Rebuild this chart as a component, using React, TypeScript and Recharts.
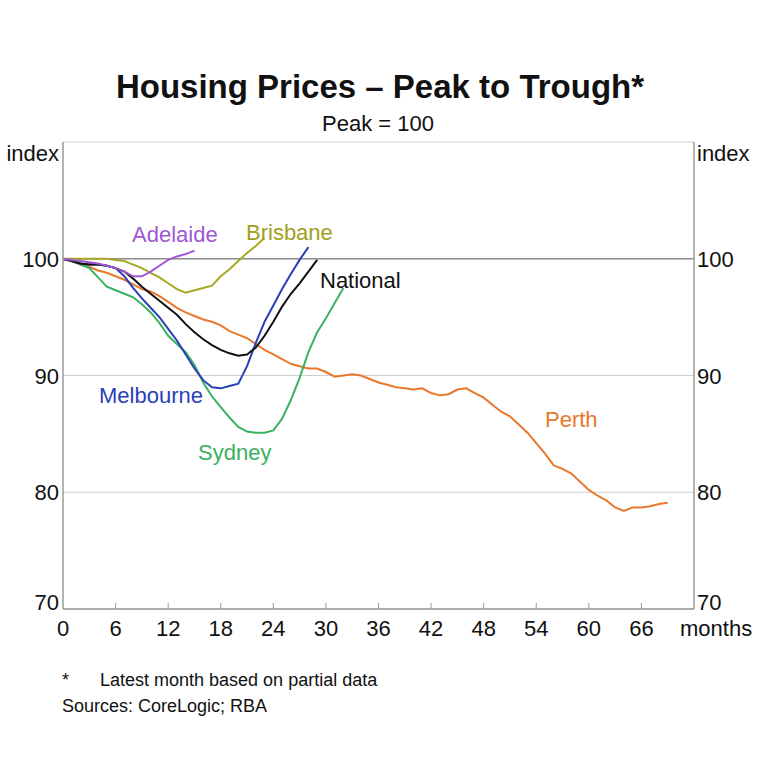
import React from "react";
import {
  LineChart,
  Line,
  XAxis,
  YAxis,
  CartesianGrid,
  ReferenceLine,
} from "recharts";

const monthTicks = [0, 6, 12, 18, 24, 30, 36, 42, 48, 54, 60, 66, 72];
const indexTicks = [70, 80, 90, 100, 110];

const perth = [
  100, 99.8, 99.5, 99.3, 99.0, 98.8, 98.5, 98.2, 97.8, 97.4, 97.2, 96.8, 96.3,
  95.8, 95.4, 95.1, 94.8, 94.6, 94.3, 93.8, 93.5, 93.2, 92.7, 92.2, 91.8, 91.4,
  91.0, 90.8, 90.6, 90.6, 90.3, 89.9, 90.0, 90.1, 90.0, 89.7, 89.4, 89.2, 89.0,
  88.9, 88.8, 88.9, 88.5, 88.3, 88.4, 88.8, 88.9, 88.5, 88.1, 87.5, 86.9, 86.5,
  85.8, 85.1, 84.2, 83.3, 82.3, 82.0, 81.6, 80.9, 80.2, 79.7, 79.3, 78.7, 78.4,
  78.7, 78.7, 78.8, 79.0, 79.1,
];
const sydney = [
  100, 99.8, 99.5, 99.2, 98.4, 97.6, 97.3, 97.0, 96.7, 96.1, 95.4, 94.5, 93.4,
  92.7, 92.0, 90.9, 89.4, 88.2, 87.3, 86.4, 85.6, 85.2, 85.1, 85.1, 85.3, 86.3,
  87.9, 89.8, 92.0, 93.7, 94.9, 96.2, 97.5,
];
const melbourne = [
  100, 99.8, 99.6, 99.5, 99.5, 99.4, 99.2, 98.5, 97.5, 96.6, 95.8, 95.0, 94.0,
  93.0, 91.8, 90.6, 89.6, 89.0, 88.9, 89.1, 89.3, 90.8, 92.8, 94.6, 96.0, 97.4,
  98.7, 99.9, 101.0,
];
const national = [
  100, 99.8, 99.6, 99.5, 99.5, 99.4, 99.2, 98.9, 98.3, 97.6, 97.0, 96.4, 95.8,
  95.2, 94.4, 93.7, 93.1, 92.6, 92.2, 91.9, 91.7, 91.8, 92.4, 93.4, 94.6, 95.9,
  97.0, 97.9, 98.9, 99.9,
];
const adelaide = [
  100, 99.9, 99.8, 99.7, 99.6, 99.4, 99.2, 98.9, 98.5, 98.5, 98.9, 99.4, 99.9,
  100.2, 100.4, 100.7,
];
const brisbane = [
  100, 100, 100, 100, 100, 100, 99.9, 99.8, 99.5, 99.2, 98.8, 98.4, 97.9, 97.4,
  97.1, 97.3, 97.5, 97.7, 98.5, 99.1, 99.8, 100.5, 101.1, 101.8,
];

const months = Array.from({ length: 73 }, (_, i) => i);
const data = months.map((m) => ({
  month: m,
  perth: perth[m],
  sydney: sydney[m],
  melbourne: melbourne[m],
  national: national[m],
  adelaide: adelaide[m],
  brisbane: brisbane[m],
}));

const FONT = "'Liberation Sans', Arial, sans-serif";
const FRAME = "#9a9a9a";

const XTick = (props: any) => {
  const { x, y, payload } = props;
  const isLast = payload.value === 72;
  return (
    <g>
      {!isLast && payload.value !== 0 && (
        <line x1={x} x2={x} y1={y} y2={y - 6} stroke={FRAME} strokeWidth={1} />
      )}
      <text
        x={isLast ? x - 14 : x}
        y={y + 27}
        textAnchor={isLast ? "start" : "middle"}
        fontFamily={FONT}
        fontSize={22}
        fill="#111"
      >
        {isLast ? "months" : payload.value}
      </text>
    </g>
  );
};

const tickDy = (v: number) => (v === 110 ? 19 : v === 70 ? 1 : 8);

const LeftTick = (props: any) => {
  const { x, y, payload } = props;
  const isTop = payload.value === 110;
  return (
    <text
      x={x}
      y={y + tickDy(payload.value)}
      textAnchor="end"
      fontFamily={FONT}
      fontSize={22}
      fill="#111"
    >
      {isTop ? "index" : payload.value}
    </text>
  );
};

const RightTick = (props: any) => {
  const { x, y, payload } = props;
  const isTop = payload.value === 110;
  return (
    <text
      x={x}
      y={y + tickDy(payload.value)}
      textAnchor="start"
      fontFamily={FONT}
      fontSize={22}
      fill="#111"
    >
      {isTop ? "index" : payload.value}
    </text>
  );
};

const labelStyle = (color: string, left: number, top: number): React.CSSProperties => ({
  position: "absolute",
  left,
  top,
  color,
  fontFamily: FONT,
  fontSize: 22,
  lineHeight: "22px",
  whiteSpace: "nowrap",
});

export default function App() {
  return (
    <div
      style={{
        position: "absolute",
        left: 0,
        top: 0,
        width: 768,
        height: 768,
        background: "#fff",
        fontFamily: FONT,
      }}
    >
      <div
        style={{
          position: "absolute",
          left: 0,
          width: 760,
          top: 69,
          textAlign: "center",
          fontSize: 33,
          fontWeight: "bold",
          lineHeight: "36px",
          color: "#111",
        }}
      >
        Housing Prices – Peak to Trough*
      </div>
      <div
        style={{
          position: "absolute",
          left: 0,
          width: 756,
          top: 112,
          textAlign: "center",
          fontSize: 22,
          lineHeight: "24px",
          color: "#111",
        }}
      >
        Peak = 100
      </div>
      <div style={{ position: "absolute", left: 0, top: 0 }}>
        <LineChart
          width={768}
          height={768}
          data={data}
          margin={{ top: 142, right: 34, bottom: 129, left: 23 }}
        >
          <CartesianGrid
            vertical={false}
            stroke="#cfcfcf"
            strokeWidth={1}
            yAxisId="left"
          />
          <XAxis
            dataKey="month"
            type="number"
            domain={[0, 72]}
            ticks={monthTicks}
            interval={0}
            tickSize={0}
            tickMargin={0}
            tick={<XTick />}
            axisLine={{ stroke: FRAME, strokeWidth: 1.5 }}
            tickLine={false}
            height={30}
          />
          <XAxis
            xAxisId="top"
            dataKey="month"
            type="number"
            domain={[0, 72]}
            orientation="top"
            tick={false}
            tickLine={false}
            axisLine={{ stroke: FRAME, strokeWidth: 1.5 }}
            height={0}
          />
          <YAxis
            yAxisId="left"
            domain={[70, 110]}
            ticks={indexTicks}
            interval={0}
            tickSize={0}
            tickMargin={4}
            tick={<LeftTick />}
            axisLine={{ stroke: FRAME, strokeWidth: 1.5 }}
            tickLine={false}
            width={40}
          />
          <YAxis
            yAxisId="right"
            orientation="right"
            domain={[70, 110]}
            ticks={indexTicks}
            interval={0}
            tickSize={0}
            tickMargin={3}
            tick={<RightTick />}
            axisLine={{ stroke: FRAME, strokeWidth: 1.5 }}
            tickLine={false}
            width={40}
          />
          <ReferenceLine yAxisId="right" y={100} stroke="#8f8f8f" strokeWidth={1.5} />
          <Line yAxisId="right" dataKey="perth" stroke="#e8782c" strokeWidth={2} dot={false} isAnimationActive={false} />
          <Line yAxisId="left" dataKey="sydney" stroke="#38b260" strokeWidth={2} dot={false} isAnimationActive={false} />
          <Line yAxisId="left" dataKey="melbourne" stroke="#2a40b8" strokeWidth={2} dot={false} isAnimationActive={false} />
          <Line yAxisId="left" dataKey="national" stroke="#111111" strokeWidth={2} dot={false} isAnimationActive={false} />
          <Line yAxisId="left" dataKey="brisbane" stroke="#a6a824" strokeWidth={2} dot={false} isAnimationActive={false} />
          <Line yAxisId="left" dataKey="adelaide" stroke="#a057d2" strokeWidth={2} dot={false} isAnimationActive={false} />
        </LineChart>
      </div>
      <div style={labelStyle("#a057d2", 132, 224)}>Adelaide</div>
      <div style={labelStyle("#a0a020", 246, 222)}>Brisbane</div>
      <div style={labelStyle("#111", 320, 270)}>National</div>
      <div style={labelStyle("#2a40b8", 99, 385)}>Melbourne</div>
      <div style={labelStyle("#38b260", 198, 442)}>Sydney</div>
      <div style={labelStyle("#e8782c", 545, 409)}>Perth</div>
      <div style={{ position: "absolute", left: 62, top: 670, fontSize: 18, lineHeight: "20px", color: "#111" }}>
        *
      </div>
      <div style={{ position: "absolute", left: 100, top: 670, fontSize: 18, lineHeight: "20px", color: "#111" }}>
        Latest month based on partial data
      </div>
      <div style={{ position: "absolute", left: 62, top: 696, fontSize: 18, lineHeight: "20px", color: "#111" }}>
        Sources: CoreLogic; RBA
      </div>
    </div>
  );
}
